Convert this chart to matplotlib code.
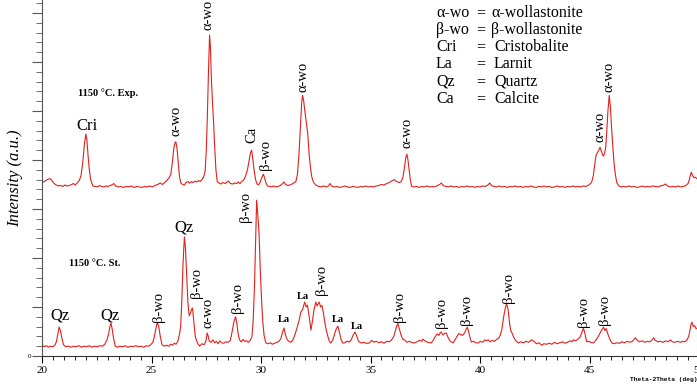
import matplotlib
matplotlib.use("Agg")
import matplotlib.pyplot as plt
from matplotlib.ticker import MultipleLocator, FuncFormatter

# 2theta (deg) / intensity (counts), 1150 C exposed sample
exp_2theta = [20.00, 20.10, 20.20, 20.30, 20.37, 20.45, 20.55, 20.65, 20.75, 20.85, 20.95, 21.05, 21.15, 21.25,
              21.35, 21.43, 21.52, 21.62, 21.70, 21.78, 21.86, 21.93, 22.00, 22.05, 22.10, 22.16, 22.22, 22.32,
              22.42, 22.52, 22.62, 22.72, 22.82, 22.92, 23.02, 23.12, 23.22, 23.28, 23.36, 23.48, 23.60, 23.72,
              23.84, 23.96, 24.08, 24.20, 24.32, 24.44, 24.56, 24.68, 24.80, 24.92, 25.04, 25.16, 25.28, 25.40,
              25.50, 25.60, 25.70, 25.80, 25.88, 25.95, 26.02, 26.08, 26.11, 26.16, 26.22, 26.28, 26.34, 26.42,
              26.50, 26.58, 26.66, 26.74, 26.82, 26.90, 26.98, 27.06, 27.14, 27.22, 27.30, 27.38, 27.45, 27.50,
              27.55, 27.60, 27.65, 27.69, 27.73, 27.78, 27.83, 27.88, 27.94, 28.00, 28.08, 28.16, 28.26, 28.36,
              28.46, 28.52, 28.60, 28.70, 28.80, 28.90, 28.96, 29.04, 29.12, 29.22, 29.30, 29.38, 29.46, 29.52,
              29.57, 29.62, 29.68, 29.75, 29.82, 29.88, 29.95, 30.02, 30.08, 30.11, 30.16, 30.22, 30.29, 30.38,
              30.48, 30.58, 30.68, 30.78, 30.88, 30.96, 31.05, 31.12, 31.22, 31.32, 31.42, 31.52, 31.59, 31.66,
              31.73, 31.80, 31.86, 31.90, 31.95, 32.00, 32.06, 32.13, 32.20, 32.27, 32.32, 32.40, 32.50, 32.62,
              32.74, 32.86, 32.98, 33.08, 33.15, 33.22, 33.34, 33.46, 33.58, 33.70, 33.82, 33.94, 34.06, 34.18,
              34.30, 34.42, 34.54, 34.66, 34.78, 34.90, 35.02, 35.14, 35.26, 35.38, 35.50, 35.62, 35.74, 35.86,
              35.96, 36.04, 36.09, 36.16, 36.24, 36.32, 36.40, 36.48, 36.55, 36.61, 36.66, 36.71, 36.76, 36.82,
              36.88, 36.98, 37.10, 37.22, 37.34, 37.46, 37.58, 37.70, 37.82, 37.94, 38.06, 38.16, 38.23, 38.32,
              38.44, 38.56, 38.68, 38.80, 38.92, 39.04, 39.16, 39.28, 39.40, 39.52, 39.64, 39.76, 39.88, 40.00,
              40.12, 40.24, 40.36, 40.44, 40.52, 40.64, 40.76, 40.88, 41.00, 41.12, 41.24, 41.36, 41.48, 41.60,
              41.72, 41.84, 41.96, 42.08, 42.20, 42.32, 42.44, 42.56, 42.68, 42.80, 42.92, 43.04, 43.16, 43.28,
              43.40, 43.52, 43.64, 43.76, 43.88, 44.00, 44.12, 44.24, 44.36, 44.48, 44.60, 44.72, 44.84, 44.96,
              45.05, 45.10, 45.18, 45.25, 45.30, 45.36, 45.42, 45.48, 45.54, 45.60, 45.64, 45.69, 45.74, 45.79,
              45.84, 45.90, 45.95, 46.00, 46.06, 46.12, 46.18, 46.25, 46.34, 46.44, 46.56, 46.68, 46.80, 46.92,
              47.04, 47.16, 47.28, 47.40, 47.52, 47.64, 47.76, 47.88, 48.00, 48.12, 48.24, 48.36, 48.46, 48.56,
              48.68, 48.80, 48.92, 49.04, 49.16, 49.28, 49.40, 49.50, 49.56, 49.61, 49.65, 49.70, 49.76, 49.83,
              49.90, 50.00]
exp_counts = [3530, 3560, 3590, 3610, 3620, 3580, 3520, 3490, 3470, 3480, 3460, 3490, 3470, 3480,
              3500, 3520, 3490, 3540, 3580, 3680, 3950, 4300, 4530, 4400, 4100, 3800, 3600, 3470,
              3460, 3450, 3480, 3460, 3450, 3470, 3460, 3480, 3500, 3520, 3470, 3450, 3460, 3440,
              3460, 3450, 3470, 3440, 3460, 3450, 3440, 3460, 3450, 3470, 3450, 3480, 3500, 3530,
              3500, 3540, 3580, 3640, 3700, 3950, 4250, 4360, 4370, 4250, 3950, 3650, 3530, 3500,
              3490, 3540, 3560, 3530, 3560, 3540, 3570, 3550, 3580, 3560, 3600, 3650, 3780, 4200,
              4900, 5800, 6550, 6300, 5700, 5200, 4800, 4300, 3800, 3560, 3530, 3510, 3540, 3520,
              3550, 3570, 3520, 3510, 3530, 3520, 3550, 3520, 3560, 3600, 3680, 3800, 4000, 4150,
              4200, 4050, 3800, 3600, 3510, 3490, 3540, 3620, 3690, 3710, 3640, 3540, 3470, 3460,
              3450, 3470, 3450, 3460, 3480, 3510, 3550, 3500, 3480, 3490, 3510, 3540, 3560, 3700,
              4100, 4700, 5200, 5320, 5200, 5000, 4800, 4550, 4100, 3800, 3650, 3540, 3490, 3460,
              3450, 3470, 3450, 3470, 3520, 3470, 3450, 3460, 3440, 3450, 3470, 3450, 3440, 3460,
              3450, 3440, 3460, 3450, 3470, 3450, 3460, 3450, 3470, 3480, 3500, 3490, 3520, 3540,
              3570, 3590, 3600, 3570, 3550, 3540, 3560, 3650, 3850, 4050, 4120, 4000, 3800, 3580,
              3460, 3450, 3460, 3440, 3460, 3450, 3470, 3450, 3460, 3450, 3480, 3500, 3530, 3480,
              3460, 3450, 3470, 3450, 3460, 3440, 3460, 3450, 3470, 3450, 3460, 3440, 3460, 3450,
              3470, 3460, 3490, 3530, 3480, 3460, 3450, 3470, 3450, 3460, 3440, 3460, 3450, 3470,
              3450, 3460, 3440, 3460, 3450, 3470, 3450, 3440, 3460, 3450, 3470, 3450, 3460, 3440,
              3450, 3470, 3450, 3460, 3440, 3460, 3450, 3470, 3450, 3460, 3450, 3470, 3460, 3490,
              3520, 3550, 3700, 3950, 4100, 4150, 4200, 4260, 4180, 4100, 4080, 4150, 4260, 4600,
              5000, 5320, 5100, 4700, 4300, 3940, 3700, 3530, 3470, 3450, 3460, 3450, 3470, 3450,
              3460, 3440, 3450, 3470, 3450, 3460, 3450, 3470, 3460, 3450, 3470, 3480, 3510, 3470,
              3450, 3460, 3450, 3470, 3450, 3460, 3480, 3520, 3600, 3700, 3750, 3690, 3640, 3650,
              3620, 3600]

# 1150 C standard sample
st_2theta = [20.00, 20.10, 20.20, 20.30, 20.40, 20.50, 20.60, 20.66, 20.72, 20.78, 20.84, 20.90, 20.98, 21.08,
             21.20, 21.32, 21.44, 21.56, 21.68, 21.80, 21.92, 22.04, 22.16, 22.28, 22.40, 22.52, 22.64, 22.76,
             22.86, 22.96, 23.04, 23.10, 23.15, 23.20, 23.26, 23.34, 23.44, 23.56, 23.68, 23.80, 23.92, 24.04,
             24.16, 24.28, 24.40, 24.52, 24.64, 24.76, 24.88, 24.98, 25.06, 25.12, 25.18, 25.24, 25.28, 25.33,
             25.40, 25.48, 25.58, 25.68, 25.78, 25.88, 25.96, 26.04, 26.12, 26.20, 26.28, 26.33, 26.38, 26.44,
             26.50, 26.55, 26.60, 26.66, 26.72, 26.78, 26.84, 26.87, 26.92, 27.00, 27.10, 27.20, 27.30, 27.40,
             27.48, 27.54, 27.58, 27.64, 27.72, 27.80, 27.88, 27.96, 28.04, 28.12, 28.20, 28.30, 28.40, 28.50,
             28.60, 28.69, 28.76, 28.84, 28.90, 28.96, 29.02, 29.10, 29.18, 29.26, 29.34, 29.42, 29.50, 29.58,
             29.64, 29.70, 29.75, 29.80, 29.85, 29.91, 29.97, 30.03, 30.08, 30.14, 30.22, 30.32, 30.42, 30.52,
             30.62, 30.72, 30.82, 30.90, 30.98, 31.05, 31.12, 31.20, 31.28, 31.36, 31.46, 31.56, 31.66, 31.74,
             31.82, 31.90, 31.96, 32.00, 32.06, 32.12, 32.20, 32.28, 32.36, 32.42, 32.50, 32.56, 32.62, 32.66,
             32.72, 32.78, 32.84, 32.90, 32.96, 33.04, 33.12, 33.19, 33.28, 33.36, 33.44, 33.51, 33.58, 33.66,
             33.73, 33.82, 33.92, 34.03, 34.12, 34.20, 34.29, 34.36, 34.45, 34.57, 34.68, 34.80, 34.95, 35.05,
             35.15, 35.26, 35.38, 35.50, 35.62, 35.74, 35.86, 35.96, 36.06, 36.14, 36.20, 36.25, 36.31, 36.40,
             36.48, 36.55, 36.66, 36.78, 36.90, 37.01, 37.12, 37.24, 37.34, 37.39, 37.48, 37.60, 37.70, 37.77,
             37.86, 37.96, 38.04, 38.12, 38.18, 38.23, 38.30, 38.38, 38.46, 38.54, 38.64, 38.77, 38.86, 38.96,
             39.04, 39.10, 39.20, 39.30, 39.38, 39.42, 39.48, 39.54, 39.60, 39.70, 39.80, 39.91, 40.02, 40.12,
             40.22, 40.30, 40.37, 40.46, 40.56, 40.66, 40.76, 40.86, 40.92, 41.00, 41.08, 41.14, 41.21, 41.28,
             41.34, 41.40, 41.46, 41.54, 41.62, 41.75, 41.86, 41.98, 42.10, 42.22, 42.35, 42.46, 42.58, 42.70,
             42.81, 42.92, 43.04, 43.16, 43.28, 43.40, 43.52, 43.64, 43.76, 43.88, 44.00, 44.10, 44.20, 44.26,
             44.36, 44.46, 44.56, 44.64, 44.72, 44.78, 44.87, 44.96, 45.06, 45.18, 45.28, 45.38, 45.46, 45.54,
             45.60, 45.64, 45.70, 45.76, 45.80, 45.86, 45.94, 46.02, 46.12, 46.24, 46.36, 46.48, 46.60, 46.72,
             46.84, 46.96, 47.04, 47.09, 47.16, 47.28, 47.40, 47.52, 47.64, 47.76, 47.86, 47.93, 48.00, 48.12,
             48.24, 48.36, 48.48, 48.60, 48.69, 48.78, 48.90, 49.02, 49.14, 49.26, 49.36, 49.46, 49.54, 49.60,
             49.64, 49.68, 49.74, 49.80, 49.86, 49.91, 49.96, 50.00]
st_counts = [220, 190, 210, 180, 200, 190, 230, 300, 450, 590, 520, 380, 230, 190,
             200, 180, 200, 190, 210, 180, 200, 190, 210, 180, 200, 190, 210, 200,
             240, 320, 450, 600, 670, 560, 380, 200, 180, 200, 190, 210, 180, 200,
             190, 210, 190, 200, 180, 210, 200, 240, 280, 380, 520, 650, 670, 600,
             400, 230, 200, 220, 200, 240, 220, 260, 240, 300, 450, 600, 1100, 1900,
             2430, 2200, 1700, 1100, 820, 880, 960, 980, 750, 390, 260, 200, 250, 230,
             300, 470, 420, 300, 280, 330, 270, 300, 250, 310, 270, 260, 290, 280,
             320, 520, 700, 800, 650, 440, 330, 290, 340, 300, 310, 280, 320, 380,
             700, 1400, 2300, 3180, 2900, 2510, 1700, 1100, 700, 420, 265, 250, 270, 240,
             260, 280, 300, 350, 480, 570, 420, 330, 300, 280, 330, 450, 600, 730,
             900, 950, 1050, 1100, 1000, 1040, 800, 530, 750, 950, 1100, 1020, 1080, 1100,
             1000, 1030, 900, 720, 570, 420, 300, 265, 330, 450, 560, 610, 480, 330,
             265, 270, 300, 285, 330, 420, 490, 420, 300, 265, 280, 260, 265, 320,
             280, 300, 270, 290, 260, 300, 290, 330, 400, 520, 620, 670, 560, 420,
             340, 330, 280, 300, 270, 265, 290, 320, 300, 345, 310, 280, 270, 265,
             320, 400, 450, 420, 470, 490, 430, 460, 470, 380, 300, 265, 330, 410,
             460, 440, 420, 470, 560, 590, 500, 380, 285, 300, 270, 265, 300, 280,
             330, 310, 330, 290, 320, 300, 340, 370, 420, 550, 800, 950, 1080, 950,
             700, 520, 470, 380, 320, 265, 290, 270, 300, 280, 330, 300, 250, 270,
             220, 250, 240, 260, 240, 280, 250, 270, 290, 260, 280, 310, 290, 330,
             310, 340, 380, 470, 570, 480, 290, 300, 280, 265, 320, 380, 450, 520,
             560, 590, 520, 560, 500, 420, 330, 265, 250, 270, 260, 290, 270, 300,
             280, 300, 340, 370, 330, 290, 310, 280, 300, 290, 330, 370, 320, 290,
             300, 280, 310, 290, 330, 290, 280, 300, 280, 300, 290, 330, 420, 560,
             650, 690, 600, 620, 560, 570, 500, 480]

# phase labels: (text, 2theta, counts at bottom of label)
exp_tags = [("α-wo", 26.14, 4490), ("α-wo", 27.60, 6650), ("Ca", 29.57, 4345), ("β-wo", 30.21, 3795),
            ("α-wo", 31.90, 5385), ("α-wo", 36.66, 4245), ("α-wo", 45.46, 4365), ("α-wo", 45.88, 5385)]
st_tags = [("β-wo", 25.31, 694), ("β-wo", 27.05, 1183), ("α-wo", 27.60, 571), ("β-wo", 28.93, 877),
           ("β-wo", 29.30, 2734), ("β-wo", 32.78, 1244), ("β-wo", 36.31, 694), ("β-wo", 38.23, 571),
           ("β-wo", 39.38, 632), ("β-wo", 41.30, 1081), ("β-wo", 44.74, 592), ("β-wo", 45.70, 632)]
flat_tags = [("Cri", 22.04, 4690), ("Qz", 20.82, 836), ("Qz", 23.11, 836), ("Qz", 26.50, 2630)]
la_tags = [("La", 31.04, 755), ("La", 31.91, 1224), ("La", 33.51, 755), ("La", 34.38, 612)]

key_abbr = ["α-wo", "β-wo", "Cri", "La", "Qz", "Ca"]
key_name = ["α-wollastonite", "β-wollastonite", "Cristobalite", "Larnit", "Quartz", "Calcite"]

plt.rcParams['font.family'] = ['Liberation Serif', 'DejaVu Serif']
red = '#e3201b'

fig = plt.figure(figsize=(6.97, 3.85), dpi=100)
ax = fig.add_axes([0.0603, 0.0753, 0.9426, 0.9247])

ax.plot(exp_2theta, exp_counts, color=red, lw=0.8)
ax.plot(st_2theta, st_counts, color=red, lw=0.8)

ax.set_xlim(20, 50)
ax.set_ylim(0, 7265)

for s in ['top', 'right']:
    ax.spines[s].set_visible(False)
ax.spines['left'].set_color('#555555')
ax.spines['bottom'].set_color('#333333')

ax.xaxis.set_major_locator(MultipleLocator(5))
ax.xaxis.set_minor_locator(MultipleLocator(0.5))
ax.yaxis.set_major_locator(MultipleLocator(1000))
ax.yaxis.set_minor_locator(MultipleLocator(200))
ax.yaxis.set_major_formatter(FuncFormatter(lambda v, p: '0' if v == 0 else ''))
ax.tick_params(axis='x', which='major', length=5, labelsize=8, pad=2)
ax.tick_params(axis='x', which='minor', length=3)
ax.tick_params(axis='y', which='major', length=7, labelsize=5, pad=1, color='#555555')
ax.tick_params(axis='y', which='minor', length=4, color='#555555')

ax.set_ylabel('Intensity (a.u.)', fontsize=12, style='italic')
ax.yaxis.set_label_coords(-0.029, 0.5)

for t, x, y in exp_tags + st_tags:
    ax.text(x, y, t, rotation=90, ha='center', va='bottom', fontsize=10.5)
for t, x, y in flat_tags:
    ax.text(x, y, t, ha='center', va='center', fontsize=12)
for t, x, y in la_tags:
    ax.text(x, y, t, ha='center', va='center', fontsize=7.5, fontweight='bold')

ax.text(21.65, 5365, '1150 °C. Exp.', ha='left', va='center', fontsize=7.5, fontweight='bold')
ax.text(21.24, 1887, '1150 °C. St.', ha='left', va='center', fontsize=7.5, fontweight='bold')

# key in the upper right corner, in pixel rows
rows = [13, 30, 47, 64, 82, 99]
for i in range(len(key_abbr)):
    y = 1 - rows[i] / 385
    fig.text(436 / 697, y, key_abbr[i], ha='left', va='center', fontsize=11.5)
    fig.text(476 / 697, y, '=', ha='left', va='center', fontsize=11.5)
    fig.text((491 if i < 2 else 494) / 697, y, key_name[i], ha='left', va='center', fontsize=11.5)

fig.text(630 / 697, 1 - 379 / 385, 'Theta-2Theta (deg)', ha='left', va='center', fontsize=4.5,
         fontweight='bold', family='Liberation Mono')

fig.savefig('out.png', dpi=100)
